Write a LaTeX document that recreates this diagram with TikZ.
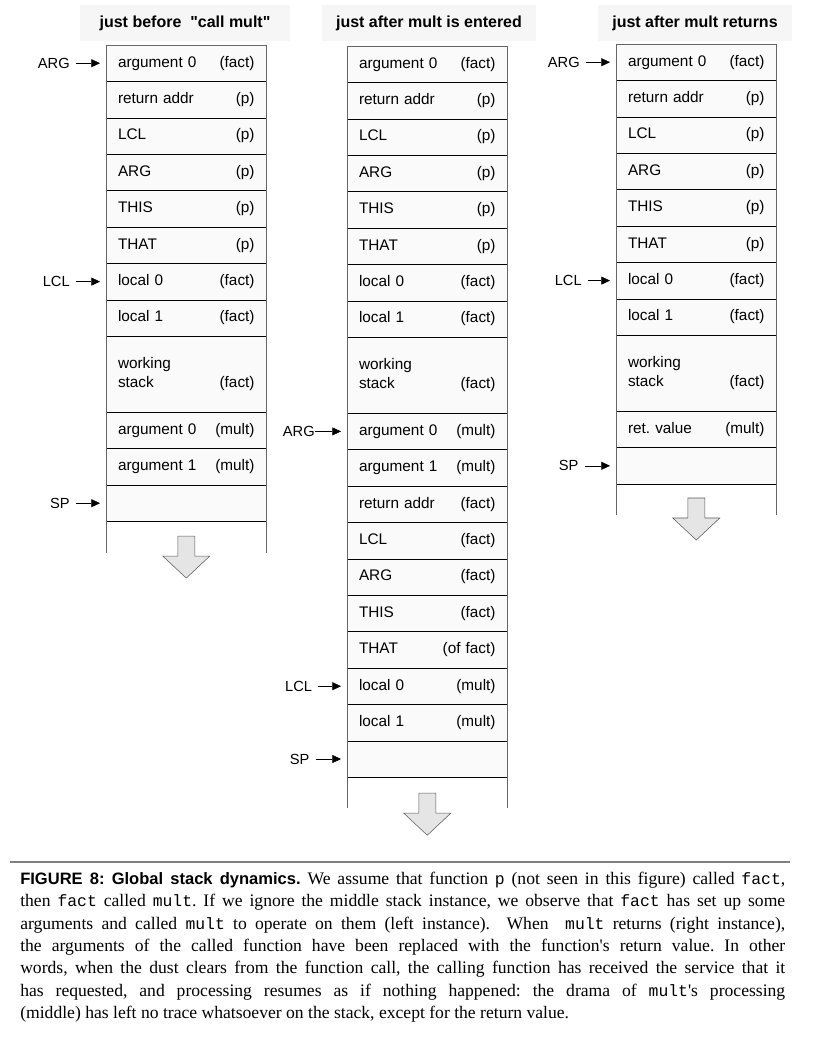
\documentclass[tikz,border=0pt]{standalone}
\usepackage{fontspec}
\setmainfont{Liberation Serif}
\setsansfont{Liberation Sans}
\setmonofont{Liberation Mono}
\newfontfamily\headfont{Liberation Sans}
\newfontfamily\capfont{Liberation Serif}
\usetikzlibrary{arrows.meta,positioning}

% hollow arrow below a stack, #1 = top middle of the shaft
\newcommand\stackarrow[1]{\draw[bigarrow] (#1) ++(-8.5,0) -- ++(17,0) -- ++(0,20) -- ++(15,0) -- ++(-23.5,22) -- ++(-23.5,-22) -- ++(15,0) -- cycle;}

\begin{document}
\begin{tikzpicture}[x=0.75pt,y=-0.75pt,
  cell/.style={draw=black,fill=gray!4,outer sep=0pt,minimum height=27.3pt,text width=102.4pt,inner xsep=9pt,inner ysep=0pt,align=left,font=\sffamily\fontsize{11.5}{14}\selectfont\frenchspacing},
  wscell/.style={cell,minimum height=57pt},
  head/.style={fill=gray!7,minimum height=27pt,inner sep=0pt,font=\headfont\bfseries\fontsize{12}{14}\selectfont},
  ptr/.style={inner sep=0pt,font=\sffamily\fontsize{11}{13}\selectfont},
  ptrarrow/.style={-{Triangle[length=6.5pt,width=6pt]},shorten <=4.5pt,shorten >=4.5pt},
  side/.style={draw=gray!80!black},
  bigarrow/.style={draw=gray!70!black,fill=gray!20,line join=miter}]
\useasboundingbox (0,0) rectangle (826,1046);

% just before "call mult"
\node[head,minimum width=157.5pt] (hbefore) at (185,23) {just before\ \ "call mult"};
\node[cell,anchor=north west] (bA0) at (106,45) {argument 0\hfill(fact)};
\node[cell,below=0pt of bA0] (bRet) {return addr\hfill(p)};
\node[cell,below=0pt of bRet] (bLCL) {LCL\hfill(p)};
\node[cell,below=0pt of bLCL] (bARG) {ARG\hfill(p)};
\node[cell,below=0pt of bARG] (bTHIS) {THIS\hfill(p)};
\node[cell,below=0pt of bTHIS] (bTHAT) {THAT\hfill(p)};
\node[cell,below=0pt of bTHAT] (bL0) {local 0\hfill(fact)};
\node[cell,below=0pt of bL0] (bL1) {local 1\hfill(fact)};
\node[wscell,below=0pt of bL1] (bWS) {working\\stack\hfill(fact)};
\node[cell,below=0pt of bWS] (bM0) {argument 0\hfill(mult)};
\node[cell,below=0pt of bM0] (bM1) {argument 1\hfill(mult)};
\node[cell,below=0pt of bM1] (bSP) {};
\draw[side] ([yshift=-24pt]bSP.south west) -- (bA0.north west) -- (bA0.north east) -- ([yshift=-24pt]bSP.south east);
\node[ptr,left=27pt of bA0] (bargp) {ARG};
\node[ptr,left=27pt of bL0] (blclp) {LCL};
\node[ptr,left=27pt of bSP] (bspp) {SP};
\draw[ptrarrow] (bargp) -- (bA0);
\draw[ptrarrow] (blclp) -- (bL0);
\draw[ptrarrow] (bspp) -- (bSP);
\stackarrow{[yshift=-11pt]bSP.south}

% just after mult is entered
\node[head,minimum width=160.5pt] (hentered) at (429,23) {just after mult is entered};
\node[cell,anchor=north west] (eA0) at (347,46) {argument 0\hfill(fact)};
\node[cell,below=0pt of eA0] (eRet) {return addr\hfill(p)};
\node[cell,below=0pt of eRet] (eLCL) {LCL\hfill(p)};
\node[cell,below=0pt of eLCL] (eARG) {ARG\hfill(p)};
\node[cell,below=0pt of eARG] (eTHIS) {THIS\hfill(p)};
\node[cell,below=0pt of eTHIS] (eTHAT) {THAT\hfill(p)};
\node[cell,below=0pt of eTHAT] (eL0) {local 0\hfill(fact)};
\node[cell,below=0pt of eL0] (eL1) {local 1\hfill(fact)};
\node[wscell,below=0pt of eL1] (eWS) {working\\stack\hfill(fact)};
\node[cell,below=0pt of eWS] (eM0) {argument 0\hfill(mult)};
\node[cell,below=0pt of eM0] (eM1) {argument 1\hfill(mult)};
\node[cell,below=0pt of eM1] (eRet2) {return addr\hfill(fact)};
\node[cell,below=0pt of eRet2] (eLCL2) {LCL\hfill(fact)};
\node[cell,below=0pt of eLCL2] (eARG2) {ARG\hfill(fact)};
\node[cell,below=0pt of eARG2] (eTHIS2) {THIS\hfill(fact)};
\node[cell,below=0pt of eTHIS2] (eTHAT2) {THAT\hfill(of fact)};
\node[cell,below=0pt of eTHAT2] (eN0) {local 0\hfill(mult)};
\node[cell,below=0pt of eN0] (eN1) {local 1\hfill(mult)};
\node[cell,below=0pt of eN1] (eSP) {};
\draw[side] ([yshift=-23pt]eSP.south west) -- (eA0.north west) -- (eA0.north east) -- ([yshift=-23pt]eSP.south east);
\node[ptr,left=24pt of eM0] (eargp) {ARG};
\node[ptr,left=26pt of eN0] (elclp) {LCL};
\node[ptr,left=28pt of eSP] (espp) {SP};
\draw[ptrarrow,shorten <=0pt] (eargp) -- (eM0);
\draw[ptrarrow] (elclp) -- (eN0);
\draw[ptrarrow] (espp) -- (eSP);
\stackarrow{[yshift=-12pt]eSP.south}

% just after mult returns
\node[head,minimum width=146pt] (hreturns) at (695,23) {just after mult returns};
\node[cell,anchor=north west] (rA0) at (616,44) {argument 0\hfill(fact)};
\node[cell,below=0pt of rA0] (rRet) {return addr\hfill(p)};
\node[cell,below=0pt of rRet] (rLCL) {LCL\hfill(p)};
\node[cell,below=0pt of rLCL] (rARG) {ARG\hfill(p)};
\node[cell,below=0pt of rARG] (rTHIS) {THIS\hfill(p)};
\node[cell,below=0pt of rTHIS] (rTHAT) {THAT\hfill(p)};
\node[cell,below=0pt of rTHAT] (rL0) {local 0\hfill(fact)};
\node[cell,below=0pt of rL0] (rL1) {local 1\hfill(fact)};
\node[wscell,below=0pt of rL1] (rWS) {working\\stack\hfill(fact)};
\node[cell,below=0pt of rWS] (rVal) {ret. value\hfill(mult)};
\node[cell,below=0pt of rVal] (rSP) {};
\draw[side] ([yshift=-23pt]rSP.south west) -- (rA0.north west) -- (rA0.north east) -- ([yshift=-23pt]rSP.south east);
\node[ptr,left=27pt of rA0] (rargp) {ARG};
\node[ptr,left=25.5pt of rL0] (rlclp) {LCL};
\node[ptr,left=28pt of rSP] (rspp) {SP};
\draw[ptrarrow] (rargp) -- (rA0);
\draw[ptrarrow] (rlclp) -- (rL0);
\draw[ptrarrow] (rspp) -- (rSP);
\stackarrow{[yshift=-10.5pt]rSP.south}

% caption
\draw[gray,line width=1.1pt] (10,862) -- (790,862);
\node[anchor=north west,text width=573.75pt,inner sep=0pt,align=justify,font=\capfont\fontsize{13.2}{16.7}\selectfont\frenchspacing] (caption) at (20,872)
{{\headfont\bfseries\fontsize{12.4}{16.7}\selectfont FIGURE 8: Global stack dynamics.} We assume that function {\ttfamily\fontsize{12.3}{16.7}\selectfont p} (not seen in this figure) called {\ttfamily\fontsize{12.3}{16.7}\selectfont fact},\linebreak
then {\ttfamily\fontsize{12.3}{16.7}\selectfont fact} called {\ttfamily\fontsize{12.3}{16.7}\selectfont mult}. If we ignore the middle stack instance, we observe that {\ttfamily\fontsize{12.3}{16.7}\selectfont fact} has set up some\linebreak
arguments and called {\ttfamily\fontsize{12.3}{16.7}\selectfont mult} to operate on them (left instance).\ \ When \ {\ttfamily\fontsize{12.3}{16.7}\selectfont mult} returns (right instance),\linebreak
the arguments of the called function have been replaced with the function's return value. In other\linebreak
words, when the dust clears from the function call, the calling function has received the service that it\linebreak
has requested, and processing resumes as if nothing happened: the drama of {\ttfamily\fontsize{12.3}{16.7}\selectfont mult}'s processing\linebreak
(middle) has left no trace whatsoever on the stack, except for the return value.};
\end{tikzpicture}
\end{document}
